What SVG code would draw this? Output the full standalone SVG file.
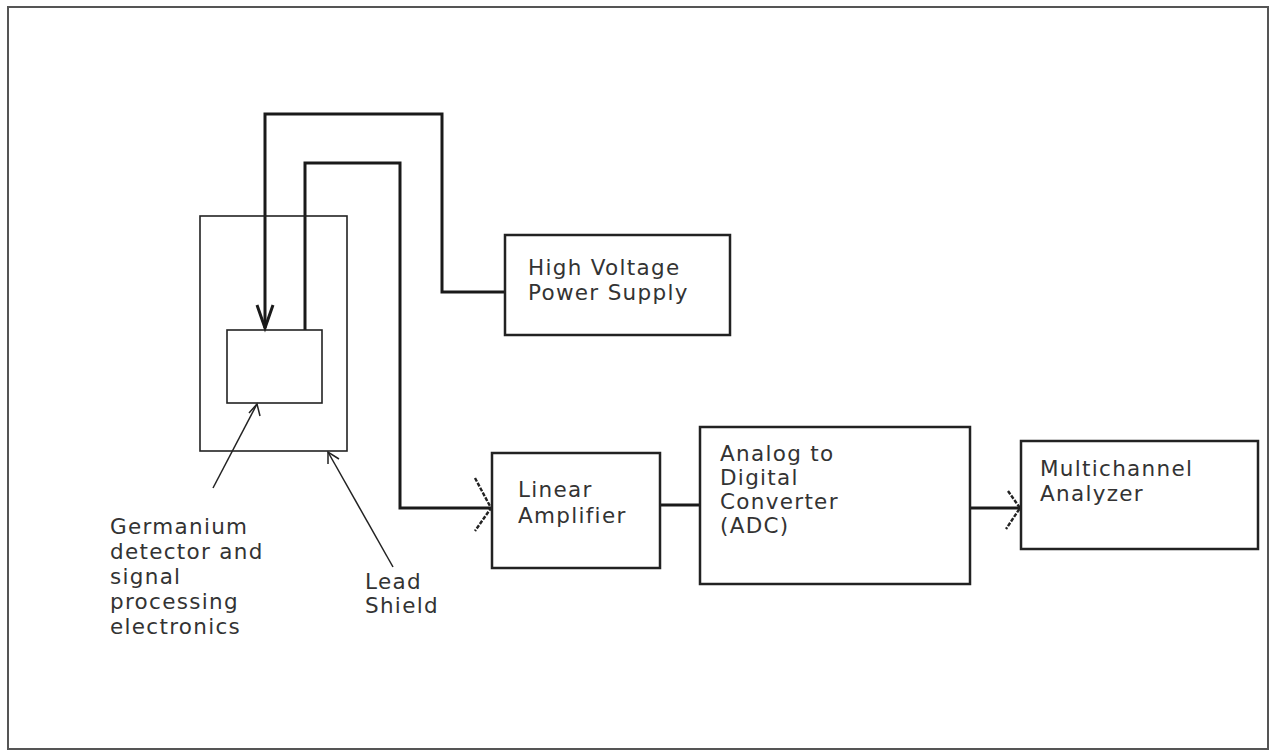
<svg xmlns="http://www.w3.org/2000/svg" width="1273" height="752" viewBox="0 0 1273 752">
<style>
.box{fill:#fff;stroke:#222;stroke-width:2.5}
.thin{fill:none;stroke:#222;stroke-width:1.6}
.wire{fill:none;stroke:#1a1a1a;stroke-width:3}
.lead{fill:none;stroke:#222;stroke-width:1.5}
.tick{fill:none;stroke:#222;stroke-width:2.4;stroke-dasharray:4 1.5}
text{font-family:"DejaVu Sans","Liberation Sans",sans-serif;font-size:21.5px;fill:#333;letter-spacing:1.3px}
</style>
<rect x="0" y="0" width="1273" height="752" fill="#fff"/>
<rect x="8" y="7" width="1260" height="742" fill="none" stroke="#555" stroke-width="2"/>
<g id="connectors">
<polyline class="wire" points="505,292 442,292 442,114 265,114 265,328"/>
<polyline class="wire" points="257,305 265,328 273,305"/>
<polyline class="wire" points="305,330 305,163 400,163 400,508 492,508"/>
<polyline class="tick" points="475,478 491,508 475,531"/>
<line class="wire" x1="660" y1="505" x2="700" y2="505" stroke-width="2.5"/>
<line class="wire" x1="970" y1="508" x2="1021" y2="508" stroke-width="2.5"/>
<polyline class="tick" points="1008,491 1020,508 1006,529"/>
<line class="lead" x1="213" y1="488" x2="257" y2="404"/>
<polyline class="lead" points="249,413 257,404 260,416"/>
<line class="lead" x1="393" y1="567" x2="328" y2="452"/>
<polyline class="lead" points="328,464 328,452 339,459"/>
</g>
<g id="lead-shield"><rect class="thin" x="200" y="216" width="147" height="235"/></g>
<g id="detector"><rect class="thin" x="227" y="330" width="95" height="73"/></g>
<g id="hv-supply">
<rect class="box" x="505" y="235" width="225" height="100"/>
<text x="528" y="275">High Voltage</text>
<text x="528" y="300">Power Supply</text>
</g>
<g id="linear-amp">
<rect class="box" x="492" y="453" width="168" height="115"/>
<text x="518" y="497">Linear</text>
<text x="518" y="523">Amplifier</text>
</g>
<g id="adc">
<rect class="box" x="700" y="427" width="270" height="157"/>
<text x="720" y="461">Analog  to</text>
<text x="720" y="485">Digital</text>
<text x="720" y="509">Converter</text>
<text x="720" y="533">(ADC)</text>
</g>
<g id="mca">
<rect class="box" x="1021" y="441" width="237" height="108"/>
<text x="1040" y="476">Multichannel</text>
<text x="1040" y="501">Analyzer</text>
</g>
<g id="label-germanium">
<text x="110" y="534">Germanium</text>
<text x="110" y="559">detector and</text>
<text x="110" y="584">signal</text>
<text x="110" y="609">processing</text>
<text x="110" y="634">electronics</text>
</g>
<g id="label-lead">
<text x="365" y="589">Lead</text>
<text x="365" y="613">Shield</text>
</g>
</svg>
